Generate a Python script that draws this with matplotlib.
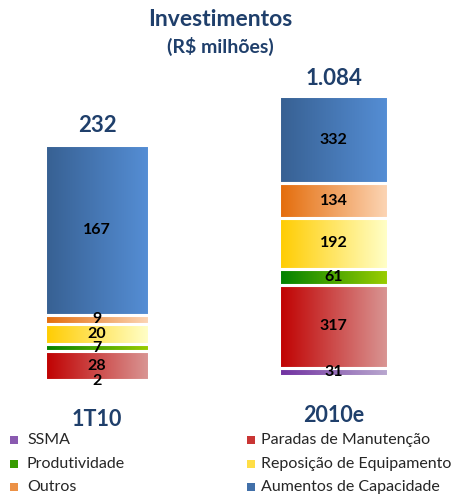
import numpy as np
import matplotlib
matplotlib.use('Agg')
import matplotlib.pyplot as plt
from matplotlib.colors import to_rgb
from matplotlib.patches import Rectangle

plt.rcParams['font.family'] = ['Lato', 'DejaVu Sans']

categories = ['1T10', '2010e']
series = ['SSMA', 'Paradas de Manutenção', 'Produtividade',
          'Reposição de Equipamento', 'Outros', 'Aumentos de Capacidade']
values_1t10 = [2, 28, 7, 20, 9, 167]
values_2010e = [31, 317, 61, 192, 134, 332]
totals = ['232', '1.084']

gradients = [
    ('#7030A0', '#B9A8CF'),
    ('#C00000', '#D99694'),
    ('#008000', '#9ACD00'),
    ('#FFCC00', '#FFFFC8'),
    ('#E46C0A', '#FCD5B5'),
    ('#376092', '#558ED5'),
]

NAVY = '#1F3F6B'
W, H = 460, 495
fig = plt.figure(figsize=(W / 100, H / 100), dpi=100)


def fx(px):
    return px / W


def fy(py):
    return 1 - py / H


def grad_img(c0, c1, n=128):
    a = np.array(to_rgb(c0))
    b = np.array(to_rgb(c1))
    t = np.linspace(0, 1, n)[:, None]
    return (a + (b - a) * t)[None, :, :]


axes_px = [(45, 382, 104, 237, 19, 38), (279, 376, 109, 280, 17.5, 39)]
data = [values_1t10, values_2010e]

for i, (vals, (x0, ybot, w, h, tot_off, cat_off)) in enumerate(zip(data, axes_px)):
    ax = fig.add_axes([fx(x0), fy(ybot), w / W, h / H])
    vals = np.array(vals)
    bottoms = np.concatenate([[0], np.cumsum(vals)[:-1]])
    bars = ax.bar(0, vals, bottom=bottoms, width=1.0, color='none',
                  edgecolor='white', linewidth=2.2, zorder=3)
    for bar, (c0, c1), v in zip(bars, gradients, vals):
        bx, by = bar.get_x(), bar.get_y()
        bw, bh = bar.get_width(), bar.get_height()
        im = ax.imshow(grad_img(c0, c1), extent=[bx, bx + bw, by, by + bh],
                       aspect='auto', zorder=2, interpolation='bilinear')
        im.set_clip_path(bar)
        ax.text(bx + bw / 2, by + bh / 2, str(v), ha='center', va='center',
                fontsize=11.5, fontweight='bold', color='black', zorder=5)
    total = vals.sum()
    ax.set_xlim(-0.5, 0.5)
    ax.set_ylim(0, total)
    ax.axis('off')
    ax.annotate(totals[i], xy=(0, total), xytext=(0, tot_off * 0.72),
                textcoords='offset points', ha='center', va='center',
                fontsize=16, fontweight='bold', color=NAVY)
    ax.annotate(categories[i], xy=(0, 0), xytext=(0, -cat_off * 0.72),
                textcoords='offset points', ha='center', va='center',
                fontsize=15.5, fontweight='bold', color=NAVY)

fig.text(fx(220), fy(19), 'Investimentos', ha='center', va='center',
         fontsize=16.5, fontweight='bold', color=NAVY)
fig.text(fx(220), fy(46), '(R$ milhões)', ha='center', va='center',
         fontsize=14, fontweight='bold', color=NAVY)

rows_y = [440, 464, 487]
cols = [(10, 27), (247, 261)]
for k, name in enumerate(series):
    r, c = divmod(k, 2)
    mx, tx = cols[c]
    yc = rows_y[r]
    a = np.array(to_rgb(gradients[k][0]))
    b = np.array(to_rgb(gradients[k][1]))
    fig.patches.append(Rectangle((fx(mx), fy(yc + 4)), 8 / W, 8 / H,
                                 transform=fig.transFigure,
                                 facecolor=tuple(a + 0.35 * (b - a)),
                                 edgecolor='none'))
    fig.text(fx(tx), fy(yc), name, ha='left', va='center', fontsize=11.5,
             color='#262626')

fig.savefig('out.png', dpi=100)
